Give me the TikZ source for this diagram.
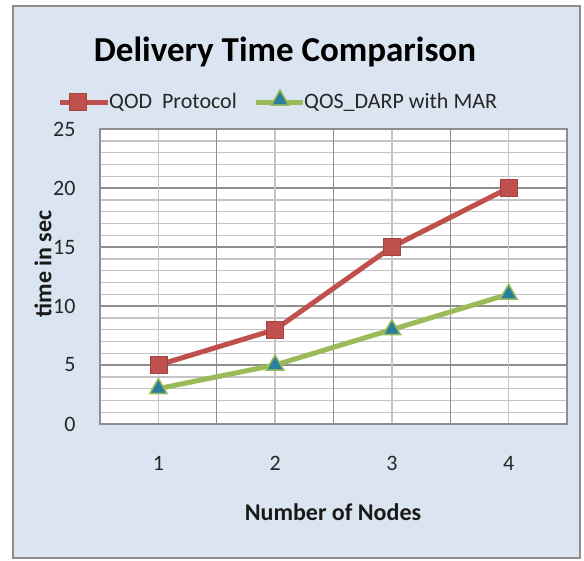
\documentclass[tikz,border=0pt]{standalone}
\usepackage{fontspec}
\setmainfont{Carlito}
\usetikzlibrary{shapes.geometric}
\definecolor{chartbg}{HTML}{DBE5F1}
\definecolor{qodred}{HTML}{C0504D}
\definecolor{darpgreen}{HTML}{9BBB59}
\definecolor{darpteal}{HTML}{2B7F9E}
\definecolor{gridminor}{HTML}{C4C4C4}
\definecolor{gridmajor}{HTML}{8E8E8E}
\tikzstyle{redline} = [draw=qodred, line width=5pt, line join=round]
\tikzstyle{greenline} = [draw=darpgreen, line width=5pt, line join=round]
\tikzstyle{redmark} = [rectangle, fill=qodred, draw=qodred!85!black, line width=0.4pt, minimum size=17pt, inner sep=0pt]
\tikzstyle{greenmark} = [regular polygon, regular polygon sides=3, fill=darpteal, draw=darpgreen, line width=1.5pt, minimum size=20pt, inner sep=0pt]
\tikzstyle{ticklabel} = [font=\fontsize{22}{26}\selectfont, text=black!85]
\tikzstyle{axislabel} = [font=\fontsize{24}{28}\selectfont\bfseries, text=black!90]
\begin{document}
\begin{tikzpicture}[x=1pt, y=-1pt]
\useasboundingbox (0,0) rectangle (584,560);
\fill[white] (0,0) rectangle (584,560);
\draw[fill=chartbg, draw=gridmajor, line width=2pt] (13,6) rectangle (580,558);
% plot area and grid
\fill[white] (100,129) rectangle (567,424);
\foreach \v in {1,...,24} {
  \draw[gridminor, line width=1.4pt] (100,424-11.8*\v) -- (567,424-11.8*\v);
}
\foreach \v in {5,10,15,20} {
  \draw[gridmajor, line width=1.2pt] (100,424-11.8*\v) -- (567,424-11.8*\v);
}
\foreach \k in {1,3,5,7} {
  \draw[gridminor, line width=1.4pt] (100+58.375*\k,129) -- (100+58.375*\k,424);
}
\foreach \k in {2,4,6} {
  \draw[gridmajor, line width=1.2pt] (100+58.375*\k,129) -- (100+58.375*\k,424);
}
\draw[gridmajor, line width=1.2pt] (100,129) rectangle (567,424);
% axis labels
\foreach \v in {0,5,...,25} {
  \node[ticklabel, anchor=east] (y\v) at (79,424-11.8*\v) {\v};
}
\foreach \i in {1,...,4} {
  \node[ticklabel] (x\i) at (100+58.375*\i*2-58.375,463) {\i};
}
\node[axislabel] (xlabel) at (333,512) {Number of Nodes};
\node[axislabel, rotate=90] (ylabel) at (43,264) {time in sec};
\node[font=\fontsize{35}{40}\selectfont\bfseries] (title) at (285,52) {Delivery Time Comparison};
% data points
\coordinate (q1) at (158.4,365);
\coordinate (q2) at (275.1,329.6);
\coordinate (q3) at (391.9,247);
\coordinate (q4) at (508.6,188);
\coordinate (d1) at (158.4,388.6);
\coordinate (d2) at (275.1,365);
\coordinate (d3) at (391.9,329.6);
\coordinate (d4) at (508.6,294.2);
\path [redline] (q1) -- (q2) -- (q3) -- (q4);
\path [greenline] (d1) -- (d2) -- (d3) -- (d4);
\foreach \p in {q1,q2,q3,q4} {\node[redmark] at (\p) {};}
\foreach \p in {d1,d2,d3,d4} {\node[greenmark] at (\p) {};}
% legend
\coordinate (lq0) at (60,102);
\coordinate (lq1) at (108,102);
\coordinate (ld0) at (256,102);
\coordinate (ld1) at (303,102);
\path [redline] (lq0) -- (lq1);
\path [greenline] (ld0) -- (ld1);
\node[redmark] (lqm) at (78,102) {};
\node[greenmark] (ldm) at (280,100) {};
\node[ticklabel, anchor=west, inner sep=1pt] (lqt) at (lq1) {QOD\ \ Protocol};
\node[ticklabel, anchor=west, inner sep=1pt] (ldt) at (ld1) {QOS\_DARP with MAR};
\end{tikzpicture}
\end{document}
